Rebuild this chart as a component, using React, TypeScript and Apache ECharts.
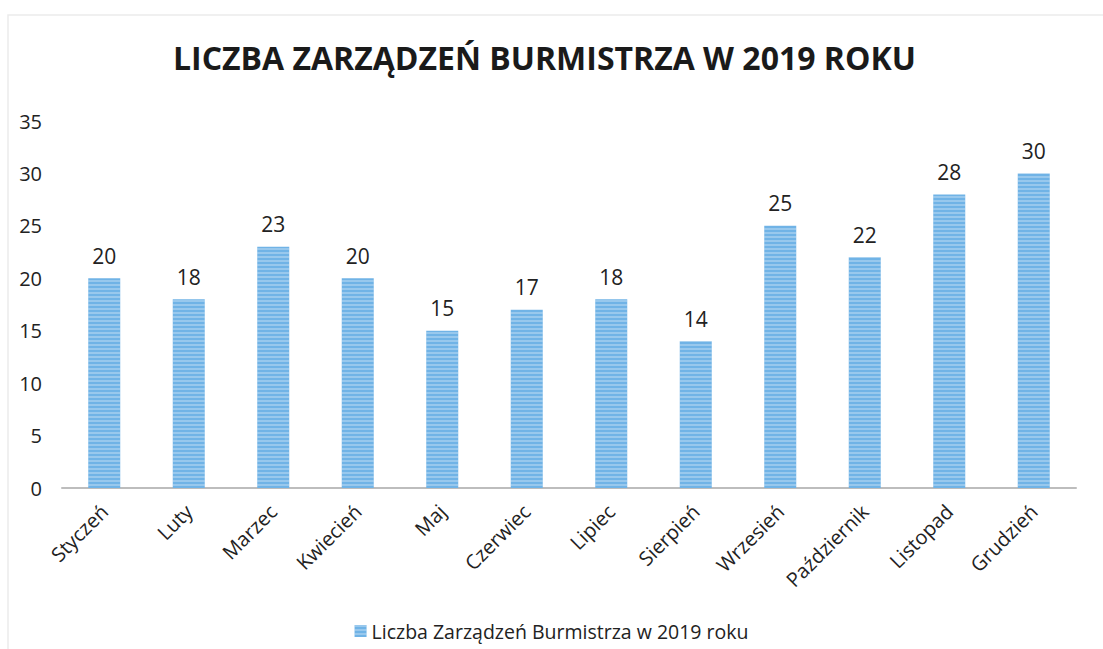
import React, { useEffect, useRef } from "react";
import * as echarts from "echarts";

const TITLE = "LICZBA ZARZĄDZEŃ BURMISTRZA W 2019 ROKU";
const SERIES_NAME = "Liczba Zarządzeń Burmistrza w 2019 roku";
const months = [
  "Styczeń", "Luty", "Marzec", "Kwiecień", "Maj", "Czerwiec",
  "Lipiec", "Sierpień", "Wrzesień", "Październik", "Listopad", "Grudzień",
];
const counts = [20, 18, 23, 20, 15, 17, 18, 14, 25, 22, 28, 30];
const yMin = 0;
const yMax = 35;
const yStep = 5;

export default function App() {
  const ref = useRef<HTMLDivElement>(null);
  useEffect(() => {
    if (!ref.current) return;
    const chart = echarts.init(ref.current, undefined, { renderer: "svg" });
    const font = "'Open Sans', 'Noto Sans', sans-serif";
    chart.setOption({
      animation: false,
      backgroundColor: "#ffffff",
      graphic: [
        {
          type: "rect",
          shape: { x: 8, y: 15, width: 1200, height: 700 },
          style: { fill: "none", stroke: "#ebebeb", lineWidth: 1.5 },
          silent: true,
        },
      ],
      title: {
        text: TITLE,
        left: 168,
        top: 36,
        textStyle: {
          fontFamily: font,
          fontWeight: "bold",
          fontSize: 32,
          color: "#1a1a1a",
        },
      },
      grid: { left: 62, right: 27, top: 121, bottom: 161, containLabel: false },
      legend: {
        bottom: 3,
        left: "center",
        itemWidth: 12,
        itemHeight: 12,
        icon: "rect",
        itemGap: 6,
        textStyle: { fontFamily: font, fontSize: 19.5, color: "#222" },
        data: [SERIES_NAME],
      },
      xAxis: {
        type: "category",
        data: months,
        axisLine: { lineStyle: { color: "#bdbdbd", width: 2 } },
        axisTick: { show: false },
        axisLabel: {
          rotate: 45,
          interval: 0,
          margin: 20,
          fontFamily: font,
          fontSize: 20,
          color: "#222",
        },
      },
      yAxis: {
        type: "value",
        min: yMin,
        max: yMax,
        interval: yStep,
        splitLine: { show: false },
        axisLine: { show: false },
        axisTick: { show: false },
        axisLabel: {
          margin: 20,
          fontFamily: font,
          fontSize: 20,
          color: "#222",
        },
      },
      series: [
        {
          name: SERIES_NAME,
          type: "bar",
          data: counts,
          barWidth: 32,
          itemStyle: {
            color: "#70b3e6",
            decal: {
              symbol: "rect",
              symbolSize: 1,
              dashArrayX: [[1, 0]],
              dashArrayY: [2, 2],
              rotation: 0,
              color: "rgba(255,255,255,0.28)",
            },
          },
          label: {
            show: true,
            position: "top",
            distance: 12,
            fontFamily: font,
            fontSize: 21,
            color: "#222",
          },
        },
      ],
    });
    return () => chart.dispose();
  }, []);
  return (
    <div
      ref={ref}
      style={{ position: "absolute", left: 0, top: 0, width: 1103, height: 649 }}
    />
  );
}
